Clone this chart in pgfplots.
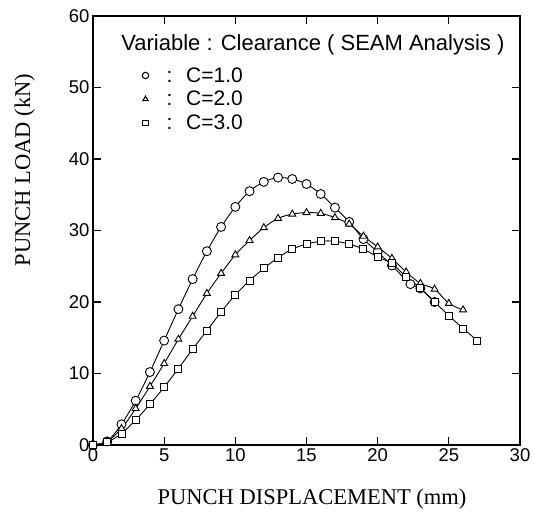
\documentclass[border=0pt]{standalone}
\usepackage{pgfplots}
\pgfplotsset{compat=1.18}
\usepackage{fontspec}
\setmainfont{Liberation Sans}
\newfontfamily\labelfont{Liberation Serif}
\begin{document}
\begin{tikzpicture}
\begin{axis}[
  at={(0pt,0pt)}, anchor=south west,
  scale only axis,
  width=427pt, height=429pt,
  xmin=0, xmax=30, ymin=0, ymax=60,
  xtick={0,5,...,30}, ytick={0,10,...,60},
  tick align=inside,
  major tick length=8pt,
  axis line style={line width=1.2pt},
  every tick/.style={line width=1.1pt, black},
  /pgf/number format/assume math mode=true,
  tick label style={font=\fontsize{18.5}{20}\selectfont},
  xlabel={PUNCH DISPLACEMENT (mm)},
  ylabel={PUNCH LOAD (kN)},
  xlabel style={font=\labelfont\fontsize{22.5}{24}\selectfont, at={(axis description cs:0.513,-0.126)}, anchor=center},
  ylabel style={font=\labelfont\fontsize{22.5}{24}\selectfont, at={(axis description cs:-0.16,0.641)}, anchor=center, rotate=0},
  legend style={draw=none, fill=none, at={(axis description cs:0.115,0.883)}, anchor=north west,
    font=\fontsize{21}{22}\selectfont, row sep=5.5pt, inner sep=0pt,
    nodes={inner sep=1pt}},
  legend cell align=left,
  legend image code/.code={\draw[#1] plot coordinates {(0.25cm,0cm)};},
]
\addlegendimage{only marks, mark=o, mark size=3.2pt, line width=1.1pt, black}
\addlegendentry{\hspace{17pt}: \ C=1.0}
\addlegendimage{only marks, mark=triangle, mark size=3pt, line width=1.1pt, black}
\addlegendentry{\hspace{17pt}: \ C=2.0}
\addlegendimage{only marks, mark=square, mark size=2.6pt, line width=1.1pt, black}
\addlegendentry{\hspace{17pt}: \ C=3.0}
\addplot[forget plot, black, line width=0.9pt, smooth, mark=*, mark size=4.5pt, mark options={fill=white, line width=0.9pt}] coordinates {
(0,0) (1,0.5) (2,2.9) (3,6.2) (4,10.2) (5,14.6) (6,19.0) (7,23.2) (8,27.1) (9,30.5)
(10,33.3) (11,35.5) (12,36.8) (13,37.4) (14,37.2) (15,36.5) (16,35.1) (17,33.2) (18,31.2)
(19,28.8) (20,27.0) (21,25.1) (22.3,22.5) (23,21.9) (24,20.0)
};
\addplot[forget plot, black, line width=0.9pt, smooth, mark=triangle*, mark size=4pt, mark options={fill=white, line width=0.9pt}] coordinates {
(0,0) (1,0.5) (2,2.3) (3,5.1) (4,8.2) (5,11.4) (6,14.8) (7,18.0) (8,21.2) (9,24.0)
(10,26.6) (11,28.6) (12,30.4) (13,31.7) (14,32.3) (15,32.5) (16,32.4) (17,31.8) (18,30.9)
(19,29.2) (20,27.7) (21,26.1) (22,24.2) (23,22.6) (24,21.8) (25,19.8) (26,18.9)
};
\addplot[forget plot, black, line width=0.9pt, smooth, mark=square*, mark size=3.5pt, mark options={fill=white, line width=0.9pt}] coordinates {
(0,0) (1,0.4) (2,1.6) (3,3.5) (4,5.7) (5,8.1) (6,10.7) (7,13.4) (8,16.0) (9,18.6)
(10,21.0) (11,23.0) (12,24.7) (13,26.2) (14,27.4) (15,28.1) (16,28.5) (17,28.5) (18,28.1)
(19,27.4) (20,26.3) (21,25.4) (22,23.5) (23,21.9) (24,20.0) (25,18.1) (26,16.3) (27,14.6)
};
\node[font=\fontsize{22}{24}\selectfont, anchor=center] at (axis description cs:0.515,0.932) {Variable : Clearance ( SEAM Analysis )};
\end{axis}
\pgfresetboundingbox
\path[use as bounding box] (-93pt,-68pt) rectangle (442pt,445pt);
\end{tikzpicture}
\end{document}
